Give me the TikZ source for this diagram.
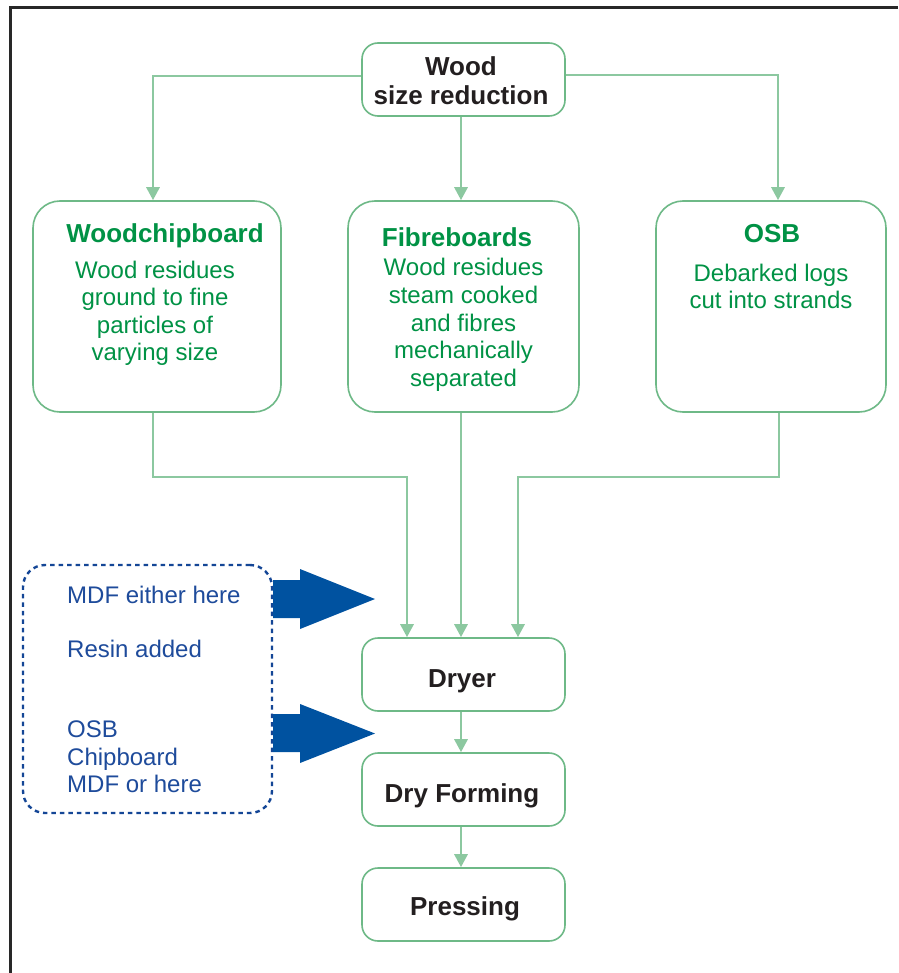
\documentclass[tikz,border=0pt]{standalone}
\usepackage{fontspec}
\setmainfont{Liberation Sans}
\usetikzlibrary{arrows.meta,positioning,calc}
\definecolor{gtext}{RGB}{0,146,69}
\definecolor{gbox}{RGB}{110,185,135}
\definecolor{gline}{RGB}{140,200,160}
\definecolor{btext}{RGB}{35,31,32}
\definecolor{bluetext}{RGB}{30,75,155}
\definecolor{bluearrow}{RGB}{0,82,160}
\definecolor{bluedash}{RGB}{20,70,150}
\definecolor{framec}{RGB}{40,40,40}
\tikzset{
  box/.style={draw=gbox, line width=1.6pt, rectangle, inner sep=0pt, fill=white},
  smallbox/.style={box, rounded corners=16pt, minimum width=203pt, minimum height=73pt},
  bigbox/.style={box, rounded corners=27pt, minimum height=211pt},
  conn/.style={draw=gline, line width=2.9pt, -{Triangle[width=13pt,length=13pt]}},
  blacklbl/.style={inner sep=0pt, anchor=base, text=btext, font=\fontsize{26}{30}\selectfont\bfseries},
  greenhead/.style={inner sep=0pt, anchor=base, text=gtext, font=\fontsize{26}{30}\selectfont\bfseries},
  greenlbl/.style={inner sep=0pt, anchor=base, text=gtext, font=\fontsize{24}{28}\selectfont},
  bluelbl/.style={inner sep=0pt, anchor=base west, text=bluetext, font=\fontsize{24}{28}\selectfont},
  bigarrow/.style={fill=bluearrow, draw=none}
}
\begin{document}
\begin{tikzpicture}[x=1pt,y=-1pt]
\useasboundingbox (0,0) rectangle (898,973);
\fill[white] (0,0) rectangle (898,973);
% frame
\draw[framec, line width=3pt] (10,973) -- (10,8) -- (898,8);

% boxes
\node[smallbox] (top) at (463.5,79.5) {};
\node[bigbox, minimum width=248pt] (wc) at (157,306.5) {};
\node[bigbox, minimum width=231pt] (fb) at (463.5,306.5) {};
\node[bigbox, minimum width=230pt] (osb) at (771,306.5) {};
\node[smallbox] (dryer) at (463.5,674.5) {};
\node[smallbox] (df) at (463.5,789.5) {};
\node[smallbox] (press) at (463.5,904.5) {};

% junctions
\coordinate (j1) at (407,477);
\coordinate (j2) at (518,477);

% connectors from top
\draw[conn] ([yshift=3.5pt]top.west) -| ([xshift=-4pt]wc.north);
\draw[conn] ([xshift=-2.5pt]top.south) -- ([xshift=-2.5pt]top.south |- fb.north);
\draw[conn] ([yshift=4.5pt]top.east) -| ([xshift=7pt]osb.north);

% connectors to dryer
\draw[conn] ([xshift=-4pt]wc.south) |- (j1) -- (j1 |- dryer.north);
\draw[conn] ([xshift=-2.5pt]fb.south) -- ([xshift=-2.5pt]fb.south |- dryer.north);
\draw[conn] ([xshift=8pt]osb.south) |- (j2) -- (j2 |- dryer.north);

% chain
\draw[conn] ([xshift=-2.5pt]dryer.south) -- ([xshift=-2.5pt]df.north);
\draw[conn] ([xshift=-2.5pt]df.south) -- ([xshift=-2.5pt]press.north);

% texts in top/bottom boxes
\node[blacklbl] (t1) at (461,76) {Wood};
\node[blacklbl] (t2) at (461,105) {size reduction};
\node[blacklbl] (t3) at (462,687) {Dryer};
\node[blacklbl] (t4) at (462,802) {Dry Forming};
\node[blacklbl] (t5) at (465,915) {Pressing};

% woodchipboard
\node[greenhead] (wch) at (165,243) {Woodchipboard};
\node[greenlbl] (wc1) at (155,278) {Wood residues};
\node[greenlbl] (wc2) at (155,305.5) {ground to fine};
\node[greenlbl] (wc3) at (155,333) {particles of};
\node[greenlbl] (wc4) at (155,360.5) {varying size};

% fibreboards
\node[greenhead] (fbh) at (457,247) {Fibreboards};
\node[greenlbl] (fb1) at (463.5,276) {Wood residues};
\node[greenlbl] (fb2) at (463.5,303.5) {steam cooked};
\node[greenlbl] (fb3) at (463.5,331) {and fibres};
\node[greenlbl] (fb4) at (463.5,358.5) {mechanically};
\node[greenlbl] (fb5) at (463.5,386) {separated};

% osb
\node[greenhead] (osbh) at (772,243) {OSB};
\node[greenlbl] (osb1) at (771,281) {Debarked logs};
\node[greenlbl] (osb2) at (771,308.5) {cut into strands};

% dashed box
\node[draw=bluedash, line width=2.4pt, dash pattern=on 4.5pt off 4pt, rounded corners=22pt,
      minimum width=249pt, minimum height=248pt, inner sep=0pt] (dash) at (147.5,689) {};

% blue arrows
\fill[bigarrow] (dash.east |- 0,580) -- (300,580) -- (300,569) -- (375,599) -- (300,629) -- (300,618) -- (dash.east |- 0,618) -- cycle;
\fill[bigarrow] (dash.east |- 0,714) -- (300,714) -- (300,704) -- (375,733.5) -- (300,763) -- (300,752) -- (dash.east |- 0,752) -- cycle;

% blue texts
\node[bluelbl] (b1) at (67,603) {MDF either here};
\node[bluelbl] (b2) at (67,657) {Resin added};
\node[bluelbl] (b3) at (67,737) {OSB};
\node[bluelbl] (b4) at (67,765) {Chipboard};
\node[bluelbl] (b5) at (67,792) {MDF or here};
\end{tikzpicture}
\end{document}
